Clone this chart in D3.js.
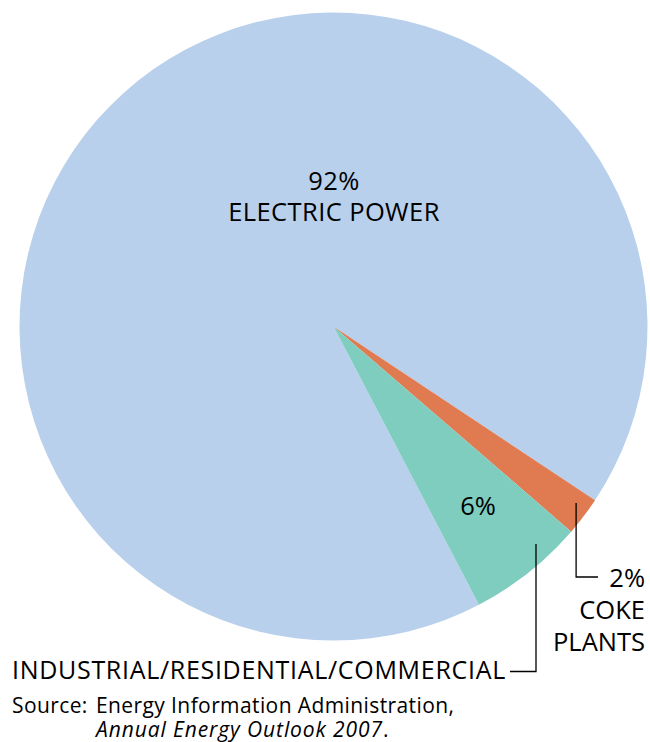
<!DOCTYPE html>
<html><head><meta charset="utf-8">
<script src="https://cdn.jsdelivr.net/npm/d3@7"></script>
<style>body{margin:0;background:#fff}svg{display:block}text{font-family:"Open Sans",sans-serif;fill:#000}</style>
</head><body>
<script>
const categories = ["ELECTRIC POWER", "COKE PLANTS", "INDUSTRIAL/RESIDENTIAL/COMMERCIAL"];
const values = [92, 2, 6];
const colors = ["#b9d0ec", "#e07a50", "#7ecdbf"];

const W = 650, H = 742;
const cx = 333.5, cy = 326.5, R = 314;
const svg = d3.select("body").append("svg").attr("width", W).attr("height", H);
const g = svg.append("g").attr("transform", `translate(${cx},${cy})`);

const start = 152.4 * Math.PI / 180;
const pie = d3.pie().sort(null).value(d => d).startAngle(start).endAngle(start + 2 * Math.PI);
const arcs = pie(values);
const arc = d3.arc().innerRadius(0).outerRadius(R);
g.selectAll("path").data(arcs).enter().append("path")
  .attr("d", arc).attr("fill", (d, i) => colors[i]);

const fs = 25.5;
svg.append("text").attr("x", 334).attr("y", 190).attr("text-anchor", "middle").attr("font-size", fs).attr("letter-spacing", 0.4).text(values[0] + "%");
svg.append("text").attr("x", 334).attr("y", 221).attr("text-anchor", "middle").attr("font-size", fs).attr("letter-spacing", 0.4).text(categories[0]);

svg.append("text").attr("x", 478).attr("y", 515).attr("text-anchor", "middle").attr("font-size", fs).text(values[2] + "%");

// Coke leader
const ln = svg.append("g").attr("stroke", "#000").attr("stroke-width", 1.3).attr("fill", "none");
const coke = arcs[1];
const cMid = (coke.startAngle + coke.endAngle) / 2;
const lx = cx + R * 0.97 * Math.sin(cMid);
ln.append("path").attr("d", `M${lx},503V577H598`);
svg.append("text").attr("x", 645).attr("y", 587).attr("text-anchor", "end").attr("font-size", fs).text(values[1] + "%");
svg.append("text").attr("x", 645).attr("y", 619).attr("text-anchor", "end").attr("font-size", fs).text("COKE");
svg.append("text").attr("x", 645).attr("y", 651).attr("text-anchor", "end").attr("font-size", fs).text("PLANTS");

// Industrial leader
ln.append("path").attr("d", `M536,544V671.5H510`);
svg.append("text").attr("x", 12).attr("y", 678.5).attr("font-size", 25).attr("letter-spacing", 0.7).text(categories[2]);

// Source
const sfs = 21;
svg.append("text").attr("x", 12).attr("y", 713).attr("font-size", sfs).attr("letter-spacing", 0.4).text("Source:");
svg.append("text").attr("x", 96).attr("y", 713).attr("font-size", sfs).attr("letter-spacing", 0.4).text("Energy Information Administration,");
const t2 = svg.append("text").attr("x", 96).attr("y", 736.5).attr("font-size", sfs).attr("letter-spacing", 0.9);
t2.append("tspan").attr("font-style", "italic").text("Annual Energy Outlook 2007");
t2.append("tspan").text(".");
</script>
</body></html>
